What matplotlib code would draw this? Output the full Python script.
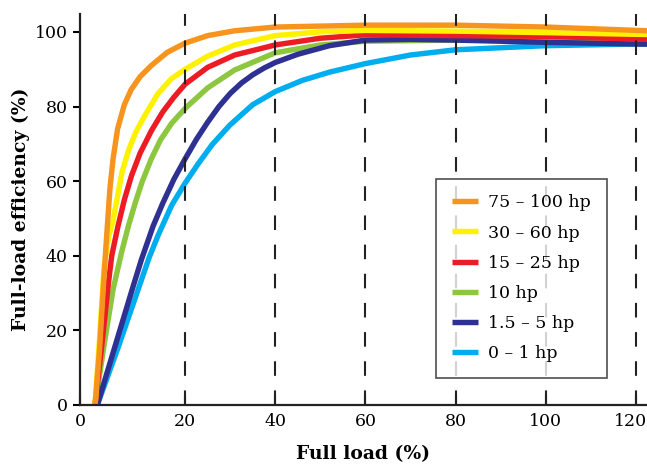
#!/usr/bin/env python3
import matplotlib
matplotlib.use('Agg')
import matplotlib.pyplot as plt
import matplotlib.transforms as mtransforms

# curves: (load %, efficiency %)
hp75_x = [0, 1, 1.8, 2.5, 3.3, 4, 5, 6.5, 8, 10, 12.5, 16, 20, 25, 31, 40, 60, 80, 100, 122.5]
hp75_y = [0, 15, 31, 44, 58, 66, 74, 80.5, 84.5, 88, 91, 94.5, 97, 99, 100.3, 101.3, 101.8, 101.8, 101.3, 100.3]

hp30_x = [0, 1, 2, 3, 4, 5, 6, 7.5, 9, 11, 14, 17, 20, 25, 31, 40, 50, 60, 80, 100, 122.5]
hp30_y = [0, 18, 37, 45, 49.5, 56, 62.5, 68.5, 73, 77.5, 83.5, 87.5, 90, 93.5, 96.5, 99, 100, 100.4, 100.2, 99.8, 99.3]

hp15_x = [0, 1.5, 3, 3.7, 5.1, 6.5, 8.1, 10, 12.5, 15, 17.5, 20, 25, 31, 40, 50, 60, 80, 100, 122.5]
hp15_y = [0, 16, 33, 40, 48, 55, 61.5, 67.5, 73.5, 78.5, 82.5, 86, 90.5, 93.8, 96.5, 98.3, 99.2, 99, 98.8, 98]

hp10_x = [0, 2, 4, 5.9, 7.4, 9, 10.5, 12.5, 14.5, 17, 20, 25, 31, 40, 50, 60, 80, 100, 122.5]
hp10_y = [0, 16, 31, 41, 48, 54.5, 60, 66, 71, 75.5, 79.5, 85, 89.8, 94.4, 96.5, 97.5, 97.8, 97.8, 97.5]

hp5_x = [0.5, 4, 8.5, 10.3, 12.9, 15, 17.5, 20, 22.5, 25, 27.5, 30, 32.5, 35, 37.5, 40, 45, 52, 60, 70, 80, 100, 122.5]
hp5_y = [0, 14, 32, 39, 48, 54, 60.5, 66, 71.2, 75.8, 80, 83.5, 86.3, 88.5, 90.3, 91.8, 94, 96.3, 97.8, 98, 97.8, 97.2, 96.7]

hp1_x = [0.5, 5, 10, 12, 14, 17, 20, 22.8, 26, 29.9, 35, 40, 46, 52, 60, 70, 80, 100, 122.5]
hp1_y = [0, 15, 32.5, 39.5, 45.5, 53.5, 59.5, 64.5, 69.8, 75, 80.5, 84, 87, 89.2, 91.5, 93.8, 95.2, 96.3, 96.8]

labels = ['75 – 100 hp', '30 – 60 hp', '15 – 25 hp', '10 hp', '1.5 – 5 hp', '0 – 1 hp']
colors = ['#F7941D', '#FFF200', '#ED1C24', '#8DC63F', '#2E3192', '#00AEEF']
grid_x = [20, 40, 60, 80, 100, 120]
# the "0" label sits on the y axis, a little left of the true zero
xtick_pos = [-3.35, 20, 40, 60, 80, 100, 120]
xtick_lab = ['0', '20', '40', '60', '80', '100', '120']

plt.rcParams['font.family'] = ['DejaVu Serif']

fig = plt.figure(figsize=(6.47, 4.66), dpi=100)
ax = fig.add_axes([0.1236, 0.131, 0.8764, 0.839])

series = [(hp75_x, hp75_y), (hp30_x, hp30_y), (hp15_x, hp15_y),
          (hp10_x, hp10_y), (hp5_x, hp5_y), (hp1_x, hp1_y)]
handles = [None] * 6
# draw bottom to top: light blue, green, navy, red, yellow, orange
for i in [5, 3, 4, 2, 1, 0]:
    xs, ys = series[i]
    line, = ax.plot(xs, ys, color=colors[i], lw=3.9, label=labels[i],
                    solid_capstyle='butt', solid_joinstyle='round', zorder=2)
    handles[i] = line

for gx in grid_x:
    ax.axvline(gx, color='#222222', lw=1.5, linestyle=(0, (7, 7)), zorder=3)

ax.set_xlim(-3.35, 122.5)
ax.set_ylim(0, 104.8)
ax.set_xticks(xtick_pos)
ax.set_xticklabels(xtick_lab)
ax.set_yticks([0, 20, 40, 60, 80, 100])
ax.spines['top'].set_visible(False)
ax.spines['right'].set_visible(False)
for s in ['left', 'bottom']:
    ax.spines[s].set_linewidth(1.6)
    ax.spines[s].set_color('#222222')
ax.tick_params(axis='x', direction='in', length=7.5, width=1.5, labelsize=12.5, pad=6)
ax.tick_params(axis='y', direction='out', length=5, width=1.5, labelsize=12.5, pad=4)

# keep the last x label inside the figure
last = ax.get_xticklabels()[-1]
last.set_transform(last.get_transform() + mtransforms.ScaledTranslation(-5 / 100, 0, fig.dpi_scale_trans))

ax.set_xlabel('Full load (%)', fontsize=13.5, fontweight='bold', labelpad=11)
ax.set_ylabel('Full-load efficiency (%)', fontsize=13.5, fontweight='bold', labelpad=3)

leg = ax.legend(handles=handles, loc='lower left', bbox_to_anchor=(0.628, 0.069),
                fontsize=12.5, frameon=True, fancybox=False, edgecolor='#222222',
                handlelength=1.5, handletextpad=0.6, labelspacing=0.76,
                borderpad=0.9, borderaxespad=0)
leg.get_frame().set_linewidth(1.2)
leg.set_zorder(5)

plt.savefig('out.png')
